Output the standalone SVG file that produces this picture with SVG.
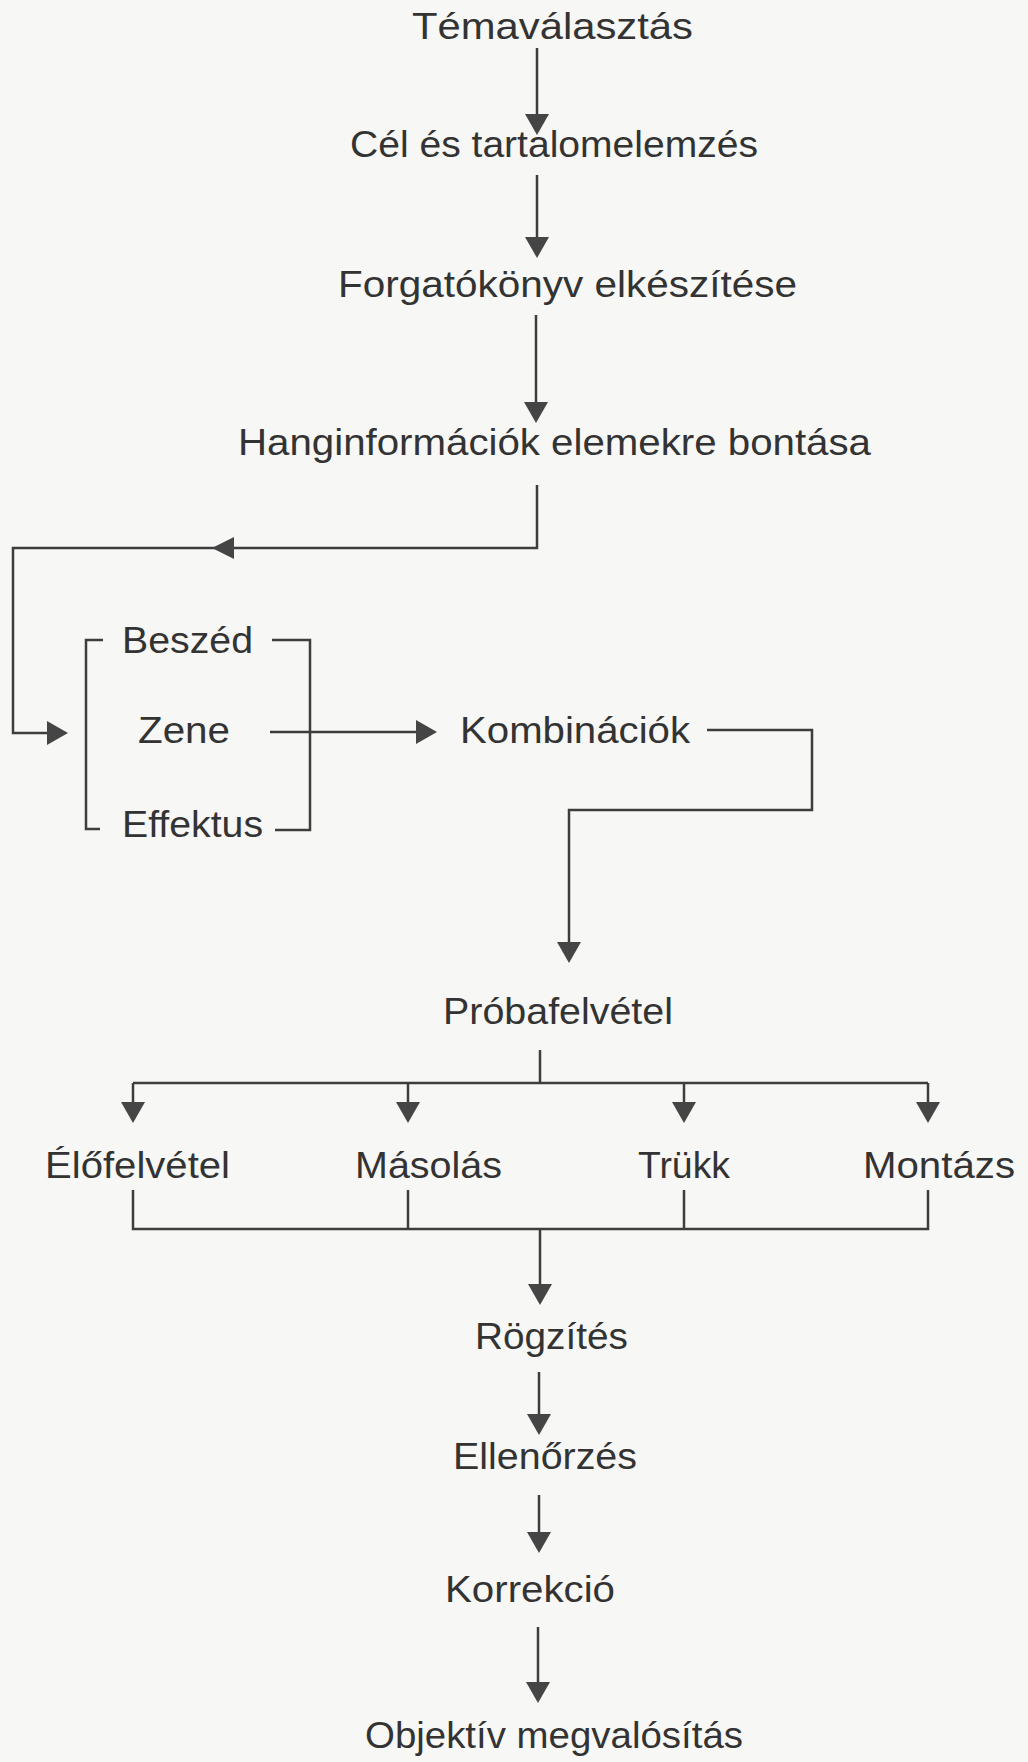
<svg xmlns="http://www.w3.org/2000/svg" width="1028" height="1762" viewBox="0 0 1028 1762">
  <defs>
    <style>
      .lbl { font-family: "Liberation Sans", Arial, Helvetica, sans-serif; font-size: 36px; fill: #333333; }
      .ln { fill: none; stroke: #3d3d3d; stroke-width: 2.5; stroke-linejoin: miter; }
      .head { fill: #454545; }
    </style>
    <marker id="arrow" viewBox="0 0 21 24" refX="18" refY="12" markerWidth="21" markerHeight="24" markerUnits="userSpaceOnUse" orient="auto">
      <path class="head" d="M0,0 L21,12 L0,24 Z"/>
    </marker>
  </defs>

  <rect width="1028" height="1762" fill="#f7f7f5"/>

  <!-- process steps -->
  <g id="n-temavalasztas"><text class="lbl" x="412" y="39" textLength="281" lengthAdjust="spacingAndGlyphs">Témaválasztás</text></g>
  <g id="n-cel"><text class="lbl" x="350" y="157" textLength="408" lengthAdjust="spacingAndGlyphs">Cél és tartalomelemzés</text></g>
  <g id="n-forgatokonyv"><text class="lbl" x="338" y="297" textLength="459" lengthAdjust="spacingAndGlyphs">Forgatókönyv elkészítése</text></g>
  <g id="n-hanginformaciok"><text class="lbl" x="238" y="455" textLength="633" lengthAdjust="spacingAndGlyphs">Hanginformációk elemekre bontása</text></g>

  <g id="n-beszed"><text class="lbl" x="122" y="653" textLength="131" lengthAdjust="spacingAndGlyphs">Beszéd</text></g>
  <g id="n-zene"><text class="lbl" x="138" y="743" textLength="92" lengthAdjust="spacingAndGlyphs">Zene</text></g>
  <g id="n-effektus"><text class="lbl" x="122" y="837" textLength="141" lengthAdjust="spacingAndGlyphs">Effektus</text></g>
  <g id="n-kombinaciok"><text class="lbl" x="460" y="743" textLength="230" lengthAdjust="spacingAndGlyphs">Kombinációk</text></g>

  <g id="n-probafelvetel"><text class="lbl" x="443" y="1024" textLength="230" lengthAdjust="spacingAndGlyphs">Próbafelvétel</text></g>
  <g id="n-elofelvetel"><text class="lbl" x="45" y="1178" textLength="185" lengthAdjust="spacingAndGlyphs">Élőfelvétel</text></g>
  <g id="n-masolas"><text class="lbl" x="355" y="1178" textLength="147" lengthAdjust="spacingAndGlyphs">Másolás</text></g>
  <g id="n-trukk"><text class="lbl" x="638" y="1178" textLength="92" lengthAdjust="spacingAndGlyphs">Trükk</text></g>
  <g id="n-montazs"><text class="lbl" x="863" y="1178" textLength="152" lengthAdjust="spacingAndGlyphs">Montázs</text></g>

  <g id="n-rogzites"><text class="lbl" x="475" y="1349" textLength="153" lengthAdjust="spacingAndGlyphs">Rögzítés</text></g>
  <g id="n-ellenorzes"><text class="lbl" x="453" y="1469" textLength="184" lengthAdjust="spacingAndGlyphs">Ellenőrzés</text></g>
  <g id="n-korrekcio"><text class="lbl" x="445" y="1602" textLength="170" lengthAdjust="spacingAndGlyphs">Korrekció</text></g>
  <g id="n-objektiv"><text class="lbl" x="365" y="1748" textLength="378" lengthAdjust="spacingAndGlyphs">Objektív megvalósítás</text></g>

  <!-- connectors -->
  <g id="connectors">
    <!-- main column -->
    <path class="ln" d="M537,48 V132" marker-end="url(#arrow)"/>
    <path class="ln" d="M537,175 V255" marker-end="url(#arrow)"/>
    <path class="ln" d="M536,315 V420" marker-end="url(#arrow)"/>

    <!-- loop back to the sound elements -->
    <path class="ln" d="M537,485 V548 H13 V733 H65" marker-end="url(#arrow)"/>
    <path class="head" d="M212,548 L234,537 L234,559 Z"/>

    <!-- bracket grouping the sound elements -->
    <path class="ln" d="M103,640 H86 V829 H100"/>
    <path class="ln" d="M272,640 H310 V830 H275"/>

    <!-- elements to combinations -->
    <path class="ln" d="M270,732 H434" marker-end="url(#arrow)"/>

    <!-- combinations to test recording -->
    <path class="ln" d="M707,730 H812 V810 H569 V960" marker-end="url(#arrow)"/>

    <!-- fan-out from test recording -->
    <path class="ln" d="M540,1050 V1083"/>
    <path class="ln" d="M133,1083 H928"/>
    <path class="ln" d="M133,1083 V1120" marker-end="url(#arrow)"/>
    <path class="ln" d="M408,1083 V1120" marker-end="url(#arrow)"/>
    <path class="ln" d="M684,1083 V1120" marker-end="url(#arrow)"/>
    <path class="ln" d="M928,1083 V1120" marker-end="url(#arrow)"/>

    <!-- fan-in to recording -->
    <path class="ln" d="M133,1190 V1229 H928 V1190"/>
    <path class="ln" d="M408,1190 V1229"/>
    <path class="ln" d="M684,1190 V1229"/>
    <path class="ln" d="M540,1229 V1302" marker-end="url(#arrow)"/>

    <!-- final column -->
    <path class="ln" d="M539,1372 V1432" marker-end="url(#arrow)"/>
    <path class="ln" d="M539,1495 V1550" marker-end="url(#arrow)"/>
    <path class="ln" d="M538,1627 V1700" marker-end="url(#arrow)"/>
  </g>
</svg>
